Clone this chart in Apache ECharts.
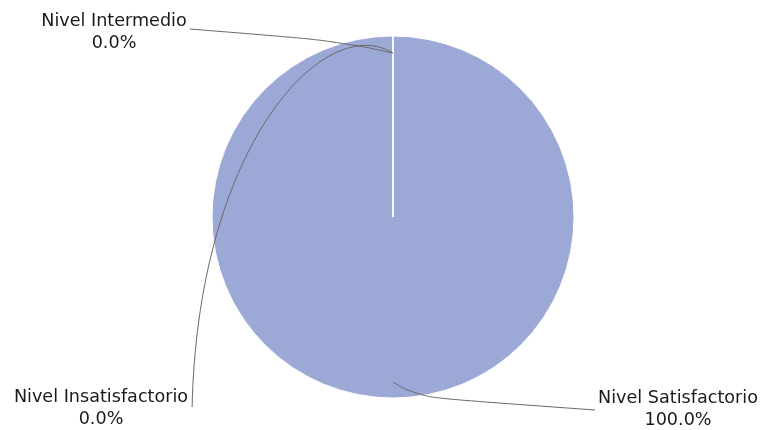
<!DOCTYPE html>
<html>
<head>
<meta charset="utf-8">
<script src="https://cdn.jsdelivr.net/npm/echarts@6/dist/echarts.min.js"></script>
<style>html,body{margin:0;padding:0;background:#fff}#c{width:762px;height:430px}</style>
</head>
<body>
<div id="c"></div>
<script>
const categories = ['Nivel Satisfactorio', 'Nivel Intermedio', 'Nivel Insatisfactorio'];
const values = [100, 0, 0];
const percentLabels = ['100.0%', '0.0%', '0.0%'];

// layout (not data)
const CX = 393, CY = 217, R = 181;
const LABEL_POS = [[678, 409], [114, 32], [101, 408]];
const FONT_SIZE = 17.6, FONT_FAMILY = 'DejaVu Sans';
const GUIDE_COLOR = '#6a6a6a';

function polar(angDeg, rad) {
  const a = angDeg * Math.PI / 180;
  return [CX + rad * Math.cos(a), CY - rad * Math.sin(a)];
}

function linePoints(i, rect) {
  if (i === 0) {
    return [polar(-90, R - 16), polar(-82, R + 1), [rect.x - 3, rect.y + rect.height / 2 + 1]];
  }
  return [polar(90.2, R - 17), polar(107, R + 3), [rect.x + rect.width + 3, rect.y + rect.height / 2 - 3]];
}

function textWidth(s) {
  const ctx = document.createElement('canvas').getContext('2d');
  ctx.font = FONT_SIZE + 'px "' + FONT_FAMILY + '"';
  return ctx.measureText(s).width;
}

const baseData = categories.map((n, i) => ({name: n, value: values[i]}));
const labelData = categories.map((n, i) => ({name: n, value: values[i], labelLine: {show: i !== 2}}));
const common = {
  type: 'pie',
  center: [CX, CY],
  radius: R,
  startAngle: 90.01,
  clockwise: true,
  avoidLabelOverlap: false,
  silent: true,
  emphasis: {disabled: true}
};

// guide for the lower-left label, drawn as a curve around the inside of the pie
const insatEndX = LABEL_POS[2][0] + textWidth(categories[2]) / 2 + 4;
const insatEndY = LABEL_POS[2][1] - 1;

const chart = echarts.init(document.getElementById('c'), null, {renderer: 'canvas'});
chart.setOption({
  animation: false,
  backgroundColor: '#ffffff',
  graphic: [{
    type: 'bezierCurve',
    silent: true,
    z: 100,
    shape: {
      x1: CX, y1: CY - R + 17,
      cpx1: CX - 69, cpy1: CY - R - 25,
      cpx2: CX - 195, cpy2: CY - 71,
      x2: insatEndX, y2: insatEndY
    },
    style: {stroke: GUIDE_COLOR, lineWidth: 1, fill: null}
  }],
  series: [
    Object.assign({}, common, {
      z: 2,
      data: baseData,
      itemStyle: {color: '#9ca8d6', borderColor: '#ffffff', borderWidth: 1},
      label: {show: false},
      labelLine: {show: false}
    }),
    Object.assign({}, common, {
      z: 5,
      data: labelData,
      itemStyle: {color: 'rgba(0,0,0,0)', borderWidth: 0},
      label: {
        show: true,
        formatter: p => p.name + '\n' + percentLabels[p.dataIndex],
        fontFamily: FONT_FAMILY,
        fontSize: FONT_SIZE,
        lineHeight: 22,
        color: '#1a1a1a',
        align: 'center'
      },
      labelLine: {show: true, length: 20, length2: 60, smooth: 0.5, lineStyle: {color: GUIDE_COLOR, width: 1}},
      labelLayout: function (p) {
        const i = p.dataIndex;
        const pos = LABEL_POS[i];
        const w = p.labelRect.width, h = p.labelRect.height;
        const rect = {x: pos[0] - w / 2, y: pos[1] - h / 2, width: w, height: h};
        const out = {x: pos[0], y: pos[1], align: 'center', verticalAlign: 'middle'};
        if (i !== 2) out.labelLinePoints = linePoints(i, rect);
        return out;
      }
    })
  ]
});
</script>
</body>
</html>
